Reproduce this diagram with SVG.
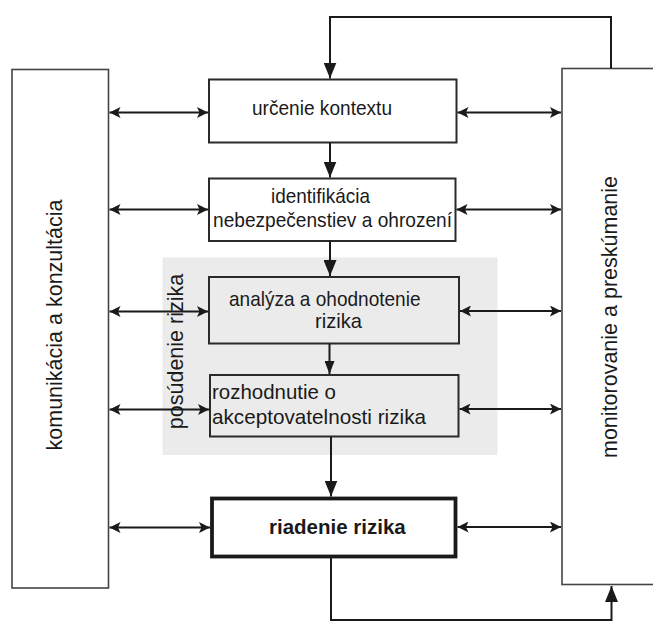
<svg xmlns="http://www.w3.org/2000/svg" width="653" height="621" viewBox="0 0 653 621">
<defs>
<style>
.box{fill:#fff;stroke:#2a2a2a;stroke-width:2}
.side{fill:#fff;stroke:#444;stroke-width:1.6}
.bold{fill:#fff;stroke:#1a1a1a;stroke-width:3.8}
.ln{fill:none;stroke:#1a1a1a;stroke-width:2}
.t{font-family:"Liberation Sans",Arial,sans-serif;font-size:21px;fill:#1a1a1a}
.tb{font-family:"Liberation Sans",Arial,sans-serif;font-size:20.5px;font-weight:bold;fill:#1a1a1a}
.ts{font-family:"Liberation Sans",Arial,sans-serif;font-size:21.5px;fill:#1a1a1a}
</style>
<marker id="ah" markerUnits="userSpaceOnUse" markerWidth="12" markerHeight="11" refX="11" refY="5.5" orient="auto-start-reverse">
<path d="M0,0 L11,5.5 L0,11 L2.5,5.5 Z" fill="#1a1a1a"/>
</marker>
<marker id="av" markerUnits="userSpaceOnUse" markerWidth="17" markerHeight="13" refX="16" refY="6.5" orient="auto">
<path d="M0,0 L16,6.5 L0,13 Z" fill="#1a1a1a"/>
</marker>
<marker id="avs" markerUnits="userSpaceOnUse" markerWidth="14" markerHeight="10" refX="13" refY="5" orient="auto">
<path d="M0,0 L13,5 L0,10 Z" fill="#1a1a1a"/>
</marker>
</defs>
<rect width="653" height="621" fill="#fff"/>

<g id="posudenie">
<rect x="162.5" y="257.5" width="335" height="197.5" fill="#ebebeb"/>
<text class="ts" font-size="23" transform="translate(183,351.5) rotate(-90)" text-anchor="middle">posúdenie rizika</text>
</g>

<g id="komunikacia">
<rect class="side" x="12" y="69.5" width="96.5" height="518.5"/>
<text class="ts" transform="translate(62,325) rotate(-90)" text-anchor="middle">komunikácia a konzultácia</text>
</g>

<g id="monitorovanie">
<rect class="side" x="562" y="68.5" width="100" height="516"/>
<text class="ts" transform="translate(617,317) rotate(-90)" text-anchor="middle">monitorovanie a preskúmanie</text>
</g>

<g id="urcenie">
<rect class="box" x="209" y="79.5" width="247.5" height="63"/>
<text class="t" x="252" y="115" textLength="140" lengthAdjust="spacingAndGlyphs">určenie kontextu</text>
</g>

<g id="identifikacia">
<rect class="box" x="209" y="178.5" width="246.5" height="62.5"/>
<text class="t" x="271" y="203" textLength="99" lengthAdjust="spacingAndGlyphs">identifikácia</text>
<text class="t" x="213" y="227" textLength="239" lengthAdjust="spacingAndGlyphs">nebezpečenstiev a ohrození</text>
</g>

<g id="analyza">
<rect class="box" x="209" y="277" width="250" height="66.5" style="fill:none"/>
<text class="t" x="229" y="305.5" textLength="191.5" lengthAdjust="spacingAndGlyphs">analýza a ohodnotenie</text>
<text class="t" x="315" y="327.5" textLength="47" lengthAdjust="spacingAndGlyphs">rizika</text>
</g>

<g id="rozhodnutie">
<rect class="box" x="210" y="375" width="248.5" height="61.5" style="fill:none"/>
<text class="t" x="212" y="398.5" textLength="124" lengthAdjust="spacingAndGlyphs">rozhodnutie o</text>
<text class="t" x="212" y="424" textLength="214" lengthAdjust="spacingAndGlyphs">akceptovatelnosti rizika</text>
</g>

<g id="riadenie">
<rect class="bold" x="212" y="498.5" width="243.5" height="58"/>
<text class="tb" x="269" y="533.5">riadenie rizika</text>
</g>

<g id="connectors">
<line class="ln" x1="109.5" y1="112.5" x2="208" y2="112.5" marker-start="url(#ah)" marker-end="url(#ah)"/>
<line class="ln" x1="109.5" y1="209.5" x2="208" y2="209.5" marker-start="url(#ah)" marker-end="url(#ah)"/>
<line class="ln" x1="109.5" y1="311.5" x2="208" y2="311.5" marker-start="url(#ah)" marker-end="url(#ah)"/>
<line class="ln" x1="109.5" y1="409.5" x2="209" y2="409.5" marker-start="url(#ah)" marker-end="url(#ah)"/>
<line class="ln" x1="109.5" y1="527.5" x2="210" y2="527.5" marker-start="url(#ah)" marker-end="url(#ah)"/>

<line class="ln" x1="457.5" y1="112.5" x2="561" y2="112.5" marker-start="url(#ah)" marker-end="url(#ah)"/>
<line class="ln" x1="456.5" y1="209.5" x2="561" y2="209.5" marker-start="url(#ah)" marker-end="url(#ah)"/>
<line class="ln" x1="460" y1="311" x2="561" y2="311" marker-start="url(#ah)" marker-end="url(#ah)"/>
<line class="ln" x1="459.5" y1="409" x2="561" y2="409" marker-start="url(#ah)" marker-end="url(#ah)"/>
<line class="ln" x1="457.5" y1="527" x2="561" y2="527" marker-start="url(#ah)" marker-end="url(#ah)"/>

<path class="ln" d="M611,68.5 V17 H330 V78.5" marker-end="url(#av)"/>
<line class="ln" x1="330" y1="142.5" x2="330" y2="177.5" marker-end="url(#av)"/>
<line class="ln" x1="330" y1="241" x2="330" y2="276" marker-end="url(#av)"/>
<line class="ln" x1="329.5" y1="343.5" x2="329.5" y2="374" marker-end="url(#avs)"/>
<line class="ln" x1="331" y1="436.5" x2="331" y2="496.5" marker-end="url(#av)"/>
<path class="ln" d="M331,558 V620 H611.5 V586" marker-end="url(#av)"/>
</g>
</svg>
